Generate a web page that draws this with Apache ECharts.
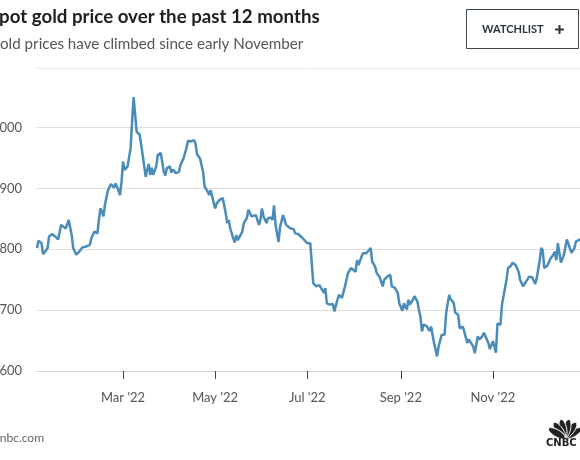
<!DOCTYPE html>
<html><head><meta charset="utf-8">
<script src="https://cdn.jsdelivr.net/npm/echarts@6/dist/echarts.min.js"></script>
<style>html,body{margin:0;padding:0;background:#fff;overflow:hidden}#c{width:580px;height:460px}</style>
</head><body><div id="c"></div>
<script>
const startDate = '2022-01-03';
const endDate = '2022-12-30';
const dates = [
'2022-01-03','2022-01-04','2022-01-06','2022-01-07','2022-01-09','2022-01-10','2022-01-11','2022-01-13','2022-01-15','2022-01-17',
'2022-01-19','2022-01-20','2022-01-22','2022-01-24','2022-01-26','2022-01-27','2022-01-29','2022-01-31','2022-02-02','2022-02-04',
'2022-02-07','2022-02-08','2022-02-10','2022-02-12','2022-02-13','2022-02-14','2022-02-15','2022-02-16','2022-02-17','2022-02-19',
'2022-02-20','2022-02-21','2022-02-23','2022-02-24','2022-02-25','2022-02-27','2022-02-28','2022-03-01','2022-03-02','2022-03-04',
'2022-03-06','2022-03-07','2022-03-08','2022-03-10','2022-03-11','2022-03-12','2022-03-14','2022-03-16','2022-03-17','2022-03-18',
'2022-03-19','2022-03-20','2022-03-21','2022-03-23','2022-03-24','2022-03-26','2022-03-28','2022-03-29','2022-03-30','2022-04-01',
'2022-04-02','2022-04-03','2022-04-05','2022-04-07','2022-04-08','2022-04-10','2022-04-12','2022-04-13','2022-04-15','2022-04-17',
'2022-04-18','2022-04-19','2022-04-20','2022-04-21','2022-04-23','2022-04-24','2022-04-25','2022-04-26','2022-04-27','2022-04-28',
'2022-04-29','2022-05-01','2022-05-02','2022-05-04','2022-05-05','2022-05-06','2022-05-08','2022-05-09','2022-05-10','2022-05-11',
'2022-05-13','2022-05-14','2022-05-15','2022-05-16','2022-05-17','2022-05-19','2022-05-20','2022-05-22','2022-05-23','2022-05-25',
'2022-05-26','2022-05-28','2022-05-30','2022-05-31','2022-06-01','2022-06-02','2022-06-04','2022-06-05','2022-06-07','2022-06-08',
'2022-06-09','2022-06-10','2022-06-12','2022-06-13','2022-06-15','2022-06-17','2022-06-18','2022-06-20','2022-06-22','2022-06-23',
'2022-06-25','2022-06-28','2022-07-01','2022-07-03','2022-07-05','2022-07-07','2022-07-09','2022-07-11','2022-07-12','2022-07-13',
'2022-07-14','2022-07-16','2022-07-18','2022-07-19','2022-07-21','2022-07-22','2022-07-24','2022-07-26','2022-07-28','2022-07-30',
'2022-07-31','2022-08-02','2022-08-03','2022-08-04','2022-08-06','2022-08-07','2022-08-09','2022-08-10','2022-08-12','2022-08-13',
'2022-08-15','2022-08-16','2022-08-18','2022-08-20','2022-08-21','2022-08-23','2022-08-25','2022-08-26','2022-08-28','2022-08-30',
'2022-08-31','2022-09-02','2022-09-03','2022-09-05','2022-09-06','2022-09-07','2022-09-09','2022-09-10','2022-09-12','2022-09-13',
'2022-09-14','2022-09-15','2022-09-16','2022-09-18','2022-09-20','2022-09-21','2022-09-22','2022-09-23','2022-09-25','2022-09-26',
'2022-09-28','2022-09-30','2022-10-01','2022-10-03','2022-10-04','2022-10-06','2022-10-07','2022-10-09','2022-10-10','2022-10-12',
'2022-10-13','2022-10-15','2022-10-16','2022-10-17','2022-10-19','2022-10-20','2022-10-21','2022-10-22','2022-10-23','2022-10-25',
'2022-10-26','2022-10-27','2022-10-29','2022-10-30','2022-11-01','2022-11-02','2022-11-03','2022-11-04','2022-11-06','2022-11-07',
'2022-11-08','2022-11-10','2022-11-11','2022-11-13','2022-11-14','2022-11-16','2022-11-18','2022-11-19','2022-11-21','2022-11-22',
'2022-11-24','2022-11-25','2022-11-27','2022-11-29','2022-11-30','2022-12-02','2022-12-03','2022-12-04','2022-12-05','2022-12-07',
'2022-12-09','2022-12-11','2022-12-12','2022-12-13','2022-12-14','2022-12-15','2022-12-16','2022-12-18','2022-12-19','2022-12-20',
'2022-12-21','2022-12-23','2022-12-25','2022-12-26','2022-12-27','2022-12-29'
];
const prices = [
1802,1814,1810,1792,1798,1802,1821,1825,1821,1816,
1840,1837,1834,1848,1823,1802,1791,1796,1803,1804,
1807,1818,1829,1826,1848,1867,1862,1854,1873,1897,
1900,1907,1901,1908,1903,1889,1911,1944,1930,1936,
1966,2010,2050,1993,1996,1988,1955,1919,1930,1940,
1922,1934,1922,1936,1955,1958,1927,1921,1933,1936,
1926,1931,1925,1927,1938,1949,1966,1978,1977,1979,
1974,1956,1958,1949,1927,1903,1906,1895,1889,1897,
1895,1867,1875,1881,1881,1884,1859,1843,1848,1834,
1818,1811,1823,1815,1818,1829,1843,1851,1865,1854,
1855,1856,1840,1848,1867,1854,1843,1851,1852,1848,
1872,1840,1812,1837,1856,1840,1837,1834,1833,1826,
1825,1818,1810,1810,1744,1739,1741,1733,1728,1736,
1711,1709,1710,1698,1717,1725,1720,1739,1761,1769,
1771,1763,1782,1774,1788,1794,1793,1793,1802,1780,
1771,1761,1754,1739,1750,1755,1758,1739,1737,1728,
1711,1699,1711,1701,1717,1709,1717,1723,1714,1700,
1689,1665,1676,1674,1666,1673,1670,1646,1624,1640,
1659,1660,1695,1725,1718,1712,1696,1692,1670,1673,
1665,1646,1652,1654,1640,1629,1628,1657,1652,1657,
1663,1662,1646,1636,1649,1640,1630,1678,1676,1709,
1706,1750,1769,1773,1778,1774,1763,1750,1739,1743,
1751,1755,1754,1743,1752,1782,1802,1798,1769,1773,
1784,1791,1796,1782,1810,1807,1778,1791,1789,1816,
1813,1794,1802,1813,1810,1816
];
const yTicks = [1600, 1700, 1800, 1900, 2000];
const tickDates = ['2022-03-01', '2022-05-01', '2022-07-01', '2022-09-01', '2022-11-01'];
const tickLabels = ["Mar '22", "May '22", "Jul '22", "Sep '22", "Nov '22"];

function buildDays(a, b) {
  const out = [];
  let t = Date.parse(a + 'T00:00:00Z');
  const e = Date.parse(b + 'T00:00:00Z');
  while (t <= e) { out.push(new Date(t).toISOString().slice(0, 10)); t += 86400000; }
  return out;
}
const days = buildDays(startDate, endDate);
const priceMap = {};
dates.forEach((d, i) => { priceMap[d] = prices[i]; });
const seriesData = days.map(d => (d in priceMap ? priceMap[d] : null));

const chart = echarts.init(document.getElementById('c'), null, { renderer: 'canvas' });
const FONT = 'Lato, "Open Sans", sans-serif';
const isTick = (i, v) => tickDates.indexOf(v) >= 0;

const feathers = [-1.05, -0.63, -0.21, 0.21, 0.63, 1.05].map(a => ({
  type: 'ellipse',
  shape: { cx: 565, cy: 428.5, rx: 3.6, ry: 9.5 },
  originX: 565, originY: 438, rotation: a,
  style: { fill: '#222', stroke: '#fff', lineWidth: 0.9 },
  silent: true
}));

chart.setOption({
  animation: false,
  backgroundColor: '#fff',
  grid: { left: 37, right: -2, top: 97, bottom: 89, containLabel: false, outerBoundsMode: 'none' },
  xAxis: {
    type: 'category',
    data: days,
    boundaryGap: false,
    axisLine: { show: true, lineStyle: { color: '#d6d6d6', width: 1 } },
    axisTick: { show: true, interval: isTick, length: 8, lineStyle: { color: '#444', width: 1 } },
    axisLabel: {
      interval: isTick, margin: 20, fontSize: 13, color: '#555', fontFamily: FONT,
      formatter: v => tickLabels[tickDates.indexOf(v)] || ''
    },
    splitLine: { show: false }
  },
  yAxis: {
    type: 'value',
    min: 1600, max: 2050, interval: 100,
    axisLine: { show: false },
    axisTick: { show: false },
    axisLabel: {
      margin: 15, fontSize: 13, color: '#555', fontFamily: FONT, showMaxLabel: false,
      formatter: v => (yTicks.indexOf(v) >= 0 ? v.toLocaleString('en-US') : '')
    },
    splitLine: { show: true, showMaxLine: false, showMinLine: false, lineStyle: { color: '#dedede', width: 1.2 } }
  },
  series: [{
    type: 'line',
    data: seriesData,
    connectNulls: true,
    showSymbol: false,
    symbol: 'none',
    lineStyle: { color: '#4a8cb9', width: 2.5 },
    itemStyle: { color: '#4a8cb9' },
    silent: true
  }],
  graphic: [
    { type: 'text', x: -11, y: 17, style: { text: 'Spot gold price over the past 12 months', font: 'bold 18.7px ' + FONT, fill: '#1f1f1f', verticalAlign: 'middle' } },
    { type: 'text', x: -11, y: 44, style: { text: 'Gold prices have climbed since early November', font: '15.2px ' + FONT, fill: '#555', verticalAlign: 'middle' } },
    { type: 'line', shape: { x1: 37, y1: 68.5, x2: 580, y2: 68.5 }, style: { stroke: '#ececec', lineWidth: 1 } },
    { type: 'rect', shape: { x: 466.5, y: 9.5, width: 112, height: 39 }, style: { fill: 'none', stroke: '#3b4650', lineWidth: 1 } },
    { type: 'text', x: 482, y: 29.5, style: { text: 'WATCHLIST', font: 'bold 11px ' + FONT, fill: '#2c3540', verticalAlign: 'middle' } },
    { type: 'line', shape: { x1: 555, y1: 29.5, x2: 564, y2: 29.5 }, style: { stroke: '#2c3540', lineWidth: 2 } },
    { type: 'line', shape: { x1: 559.5, y1: 25, x2: 559.5, y2: 34 }, style: { stroke: '#2c3540', lineWidth: 2 } },
    { type: 'text', x: -6, y: 438, style: { text: 'cnbc.com', font: '12px ' + FONT, fill: '#666', verticalAlign: 'middle' } },
    ...feathers,
    { type: 'text', x: 546, y: 443.5, style: { text: 'CNBC', font: '900 10px "DejaVu Sans", sans-serif', fill: '#222', verticalAlign: 'middle' } }
  ]
});
</script>
</body></html>
